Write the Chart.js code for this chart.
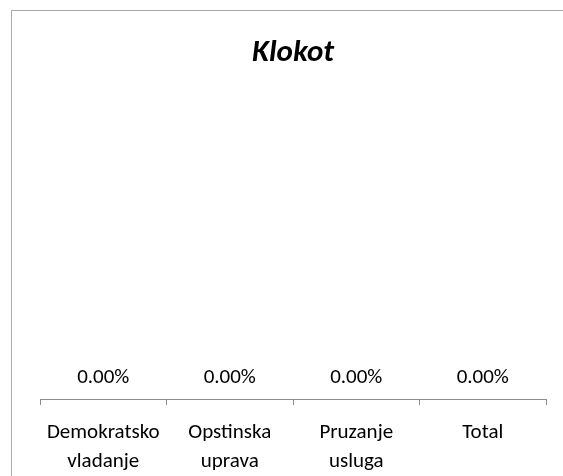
<!DOCTYPE html>
<html>
<head>
<meta charset="utf-8">
<script src="https://cdn.jsdelivr.net/npm/chart.js@4.4.1/dist/chart.umd.min.js"></script>
<style>
  html, body { margin: 0; padding: 0; background: #fff; }
  #wrap { position: relative; width: 563px; height: 476px; overflow: hidden; }
  #frame { position: absolute; left: 11px; top: 10px; width: 600px; height: 500px;
           border-left: 1.5px solid #ababab; border-top: 1.5px solid #ababab; }
  canvas { position: absolute; left: 0; top: 0; }
</style>
</head>
<body>
<div id="wrap">
  <div id="frame"></div>
  <canvas id="chart" width="563" height="490"></canvas>
</div>
<script>
const categories = [['Demokratsko', 'vladanje'], ['Opstinska', 'uprava'], ['Pruzanje', 'usluga'], ['Total']];
const values = [0, 0, 0, 0];
const chartTitle = 'Klokot';

const fontFam = "Calibri, Carlito, Lato, 'Open Sans', sans-serif";

// etiquetas de datos encima de cada barra
const etiquetas = {
    id: 'etiquetas',
    afterDatasetsDraw(chart) {
        const ctx = chart.ctx;
        const meta = chart.getDatasetMeta(0);
        ctx.save();
        ctx.font = '21px ' + fontFam;
        ctx.fillStyle = '#000';
        ctx.textAlign = 'center';
        ctx.textBaseline = 'middle';
        meta.data.forEach((bar, i) => {
            ctx.fillText(values[i].toFixed(2) + '%', bar.x, bar.y - 21);
        });
        ctx.restore();
    }
};

new Chart(document.getElementById('chart'), {
    type: 'bar',
    data: {
        labels: categories,
        datasets: [{
            data: values,
            backgroundColor: '#4f81bd'
        }]
    },
    options: {
        responsive: false,
        animation: false,
        layout: { padding: { left: 40, right: 17, top: 0, bottom: 1 } },
        plugins: {
            legend: { display: false },
            tooltip: { enabled: false },
            title: {
                display: true,
                text: chartTitle,
                fullSize: false,
                color: '#000',
                font: { family: fontFam, size: 31, weight: 'bold', style: 'italic' },
                padding: { top: 35, bottom: 10 }
            }
        },
        scales: {
            y: { display: false, min: 0, max: 1 },
            x: {
                grid: { display: true, drawOnChartArea: false, drawTicks: true, tickLength: 6, color: '#8c8c8c', offset: true },
                border: { display: true, color: '#8c8c8c', width: 1 },
                ticks: {
                    color: '#000',
                    maxRotation: 0,
                    autoSkip: false,
                    padding: 13,
                    font: { family: fontFam, size: 21, lineHeight: 1.38 }
                }
            }
        }
    },
    plugins: [etiquetas]
});
</script>
</body>
</html>
